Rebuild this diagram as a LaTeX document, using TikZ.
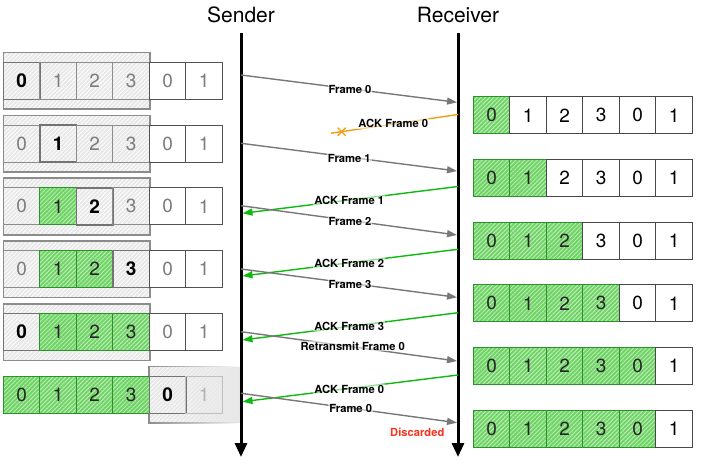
\documentclass[tikz,border=0pt]{standalone}
\usepackage{fontspec}
\setmainfont{TeX Gyre Heros}
\usetikzlibrary{arrows.meta,patterns.meta,fadings,calc}
\definecolor{gfill}{RGB}{110,212,100}
\definecolor{gdraw}{RGB}{45,145,45}
\definecolor{wfill}{RGB}{232,232,232}
\definecolor{wdraw}{RGB}{140,140,140}
\definecolor{txtgray}{RGB}{125,125,125}
\definecolor{arrgray}{RGB}{120,120,120}
\definecolor{ackgreen}{RGB}{15,185,15}
\definecolor{ackorange}{RGB}{238,160,20}
\definecolor{discred}{RGB}{250,50,30}
\tikzset{
  hatchpat/.style={pattern={Lines[angle=45,distance=3pt,line width=0.8pt]},pattern color=#1},
  cellbase/.style={minimum width=36.5pt,minimum height=37pt,inner sep=0pt,
    font=\fontsize{19}{19}\selectfont,line width=1pt},
  cellgray/.style={cellbase,draw=wdraw,text=txtgray},
  cellcur/.style={cellbase,draw=black!55,line width=1.5pt,text=black,font=\fontsize{19}{19}\selectfont\bfseries},
  cellout/.style={cellbase,fill=white,draw=black!68,text=txtgray},
  cellok/.style={cellbase,preaction={fill=gfill},hatchpat=gfill!40!white,draw=gdraw,text=black!85},
  cellfade/.style={cellbase,draw=black!25,text=black!30},
  cellrw/.style={cellbase,fill=white,draw=black!72,text=black},
  winbox/.style={minimum width=146.7pt,minimum height=56.6pt,inner sep=0pt,
    preaction={fill=wfill},hatchpat=white,draw=wdraw,line width=1.6pt},
  lifeline/.style={line width=3pt,-{Triangle[length=14pt,width=12pt]}},
  msg/.style={draw=arrgray,line width=1.4pt,-{Triangle[length=10pt,width=7pt]}},
  ack/.style={draw=ackgreen,line width=1.4pt,-{Triangle[length=10pt,width=7pt]}},
  lost/.style={draw=ackorange,line width=1.4pt},
  lbl/.style={font=\fontsize{11.2}{11.2}\selectfont\bfseries,inner sep=1pt,
    fill=white,fill opacity=0.55,text opacity=1},
  head/.style={font=\fontsize{21}{21}\selectfont,inner sep=0pt},
}
\begin{document}
\begin{tikzpicture}[x=1pt,y=-1pt]
\useasboundingbox (0,0) rectangle (702,464);
% headings and life lines
\node[head] (sender) at (241,15) {Sender};
\node[head] (receiver) at (458,15) {Receiver};
\coordinate (stop) at (241,33);
\coordinate (sbot) at (241,457);
\coordinate (rtop) at (458,33);
\coordinate (rbot) at (458,457);
\draw[lifeline] (stop) -- (sbot);
\draw[lifeline] (rtop) -- (rbot);
% sender windows
\foreach \r/\y in {1/80.8,2/143.6,3/206.4,4/269.2,5/332}{
  \node[winbox] (W\r) at (76.65,\y) {};
}
\node[winbox,minimum width=91pt,path fading=east] (W6) at (194.5,394.8) {};
% sender rows
\foreach \r/\y/\spec in {
  1/80.8/{cellcur/0,cellgray/1,cellgray/2,cellgray/3,cellout/0,cellout/1},
  2/143.6/{cellgray/0,cellcur/1,cellgray/2,cellgray/3,cellout/0,cellout/1},
  3/206.4/{cellgray/0,cellok/1,cellcur/2,cellgray/3,cellout/0,cellout/1},
  4/269.2/{cellgray/0,cellok/1,cellok/2,cellcur/3,cellout/0,cellout/1},
  5/332/{cellcur/0,cellok/1,cellok/2,cellok/3,cellout/0,cellout/1},
  6/394.8/{cellok/0,cellok/1,cellok/2,cellok/3,cellcur/0,cellfade/1}}{
  \foreach \s/\t [count=\i] in \spec {
    \node[\s] (L\r c\i) at ({21.55+36.5*(\i-1)},\y) {\t};
  }
}
% receiver rows
\foreach \r/\y/\spec in {
  1/115.3/{cellok/0,cellrw/1,cellrw/2,cellrw/3,cellrw/0,cellrw/1},
  2/178/{cellok/0,cellok/1,cellrw/2,cellrw/3,cellrw/0,cellrw/1},
  3/240.7/{cellok/0,cellok/1,cellok/2,cellrw/3,cellrw/0,cellrw/1},
  4/303.4/{cellok/0,cellok/1,cellok/2,cellok/3,cellrw/0,cellrw/1},
  5/366.1/{cellok/0,cellok/1,cellok/2,cellok/3,cellok/0,cellrw/1},
  6/428.8/{cellok/0,cellok/1,cellok/2,cellok/3,cellok/0,cellrw/1}}{
  \foreach \s/\t [count=\i] in \spec {
    \node[\s] (R\r c\i) at ({491.55+36.5*(\i-1)},\y) {\t};
  }
}
% message end points
\coordinate (f0a) at (241,75);     \coordinate (f0b) at (457,102.3);
\coordinate (a0a) at (458,114.5);  \coordinate (a0b) at (331,133.2);
\coordinate (f1a) at (241,143.3);  \coordinate (f1b) at (457,171);
\coordinate (a1a) at (458,186.5);  \coordinate (a1b) at (242.5,213.3);
\coordinate (f2a) at (241,205.7);  \coordinate (f2b) at (457,235);
\coordinate (a2a) at (458,249.3);  \coordinate (a2b) at (242.5,276);
\coordinate (f3a) at (241,269);    \coordinate (f3b) at (457,297.3);
\coordinate (a3a) at (458,312.7);  \coordinate (a3b) at (242.5,340);
\coordinate (rfa) at (241,331.7);  \coordinate (rfb) at (457,361);
\coordinate (a4a) at (458,375);    \coordinate (a4b) at (242.5,401.7);
\coordinate (f4a) at (241,393.3);  \coordinate (f4b) at (457,422.7);
\coordinate (lostx) at (341.7,131.7);
% messages
\draw[msg] (f0a) -- (f0b);
\draw[lost] (a0a) -- (a0b);
\draw[ackorange,line width=1.4pt] ($(lostx)+(-4,-4)$) -- ($(lostx)+(4,4)$)
  ($(lostx)+(-4,4)$) -- ($(lostx)+(4,-4)$);
\draw[msg] (f1a) -- (f1b);
\draw[ack] (a1a) -- (a1b);
\draw[msg] (f2a) -- (f2b);
\draw[ack] (a2a) -- (a2b);
\draw[msg] (f3a) -- (f3b);
\draw[ack] (a3a) -- (a3b);
\draw[msg] (rfa) -- (rfb);
\draw[ack] (a4a) -- (a4b);
\draw[msg] (f4a) -- (f4b);
% labels
\node[lbl] (lf0) at (350,89.3) {Frame 0};
\node[lbl] (la0) at (393.3,123.3) {ACK Frame 0};
\node[lbl] (lf1) at (349.3,158.3) {Frame 1};
\node[lbl] (la1) at (349.3,200.7) {ACK Frame 1};
\node[lbl] (lf2) at (350,221.7) {Frame 2};
\node[lbl] (la2) at (349.3,263.3) {ACK Frame 2};
\node[lbl] (lf3) at (350,284) {Frame 3};
\node[lbl] (la3) at (349.3,326) {ACK Frame 3};
\node[lbl] (lrf) at (352.7,346) {Retransmit Frame 0};
\node[lbl] (la4) at (349.3,389.3) {ACK Frame 0};
\node[lbl] (lf4) at (350.7,408.3) {Frame 0};
\node[font=\fontsize{11.2}{11.2}\selectfont\bfseries,text=discred,inner sep=0pt] (disc) at (417.3,432.3) {Discarded};
\end{tikzpicture}
\end{document}
